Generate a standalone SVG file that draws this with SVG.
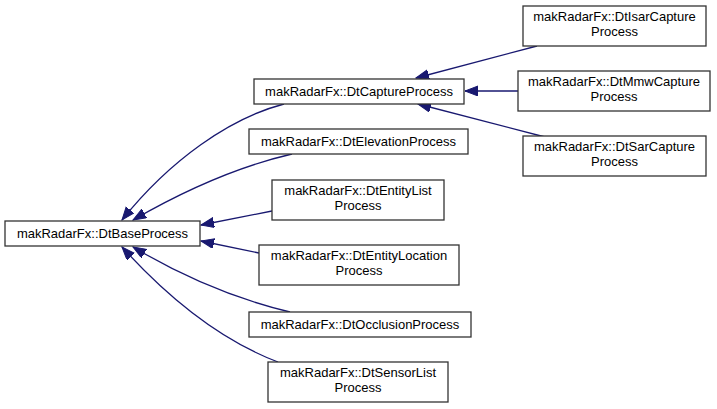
<svg xmlns="http://www.w3.org/2000/svg" width="717" height="409" viewBox="0 0 717 409">
<style>
.box{fill:#fff;stroke:#333;stroke-width:1.3}
.t{font-family:"Liberation Sans",Arial,sans-serif;font-size:13px;fill:#000;text-anchor:middle}
.e{fill:none;stroke:#191970;stroke-width:1.3}
</style>
<defs>
<marker id="ah" markerUnits="userSpaceOnUse" markerWidth="14" markerHeight="11" refX="13" refY="5" orient="auto">
<path d="M0,0 L13,5 L0,10 z" fill="#191970" stroke="#191970" stroke-width="1"/>
</marker>
</defs>
<rect width="717" height="409" fill="#fff"/>
<g id="edges">
<path class="e" marker-end="url(#ah)" d="M284,104 C230,118 170,160 122,220"/>
<path class="e" marker-end="url(#ah)" d="M292,154 C240,166 185,190 133,220"/>
<path class="e" marker-end="url(#ah)" d="M272,211 L201,225"/>
<path class="e" marker-end="url(#ah)" d="M259,253 L201,241"/>
<path class="e" marker-end="url(#ah)" d="M290,312 C240,300 185,278 133,247"/>
<path class="e" marker-end="url(#ah)" d="M278,362 C220,340 170,300 122,247"/>
<path class="e" marker-end="url(#ah)" d="M537,46 L416,78"/>
<path class="e" marker-end="url(#ah)" d="M518,91 L465,91"/>
<path class="e" marker-end="url(#ah)" d="M545,137 L418,104"/>
</g>
<g id="n_base"><rect class="box" x="5" y="221" width="195" height="25"/><text class="t" x="102.5" y="238">makRadarFx::DtBaseProcess</text></g>
<g id="n_capture"><rect class="box" x="254" y="79" width="210" height="25"/><text class="t" x="359" y="96">makRadarFx::DtCaptureProcess</text></g>
<g id="n_elevation"><rect class="box" x="249" y="129" width="219" height="25"/><text class="t" x="358.5" y="146">makRadarFx::DtElevationProcess</text></g>
<g id="n_entitylist"><rect class="box" x="272" y="180" width="172" height="40"/><text class="t" x="358" y="195">makRadarFx::DtEntityList</text><text class="t" x="358" y="210">Process</text></g>
<g id="n_entityloc"><rect class="box" x="259" y="245" width="200" height="40"/><text class="t" x="359" y="260">makRadarFx::DtEntityLocation</text><text class="t" x="359" y="275">Process</text></g>
<g id="n_occlusion"><rect class="box" x="249" y="312" width="222" height="25"/><text class="t" x="360" y="329">makRadarFx::DtOcclusionProcess</text></g>
<g id="n_sensorlist"><rect class="box" x="268" y="362" width="180" height="40"/><text class="t" x="358" y="377">makRadarFx::DtSensorList</text><text class="t" x="358" y="392">Process</text></g>
<g id="n_isar"><rect class="box" x="523" y="6" width="183" height="40"/><text class="t" x="614.5" y="21">makRadarFx::DtIsarCapture</text><text class="t" x="614.5" y="36">Process</text></g>
<g id="n_mmw"><rect class="box" x="518" y="71" width="192" height="40"/><text class="t" x="614" y="86">makRadarFx::DtMmwCapture</text><text class="t" x="614" y="101">Process</text></g>
<g id="n_sar"><rect class="box" x="523" y="136" width="183" height="40"/><text class="t" x="614.5" y="151">makRadarFx::DtSarCapture</text><text class="t" x="614.5" y="166">Process</text></g>
</svg>
